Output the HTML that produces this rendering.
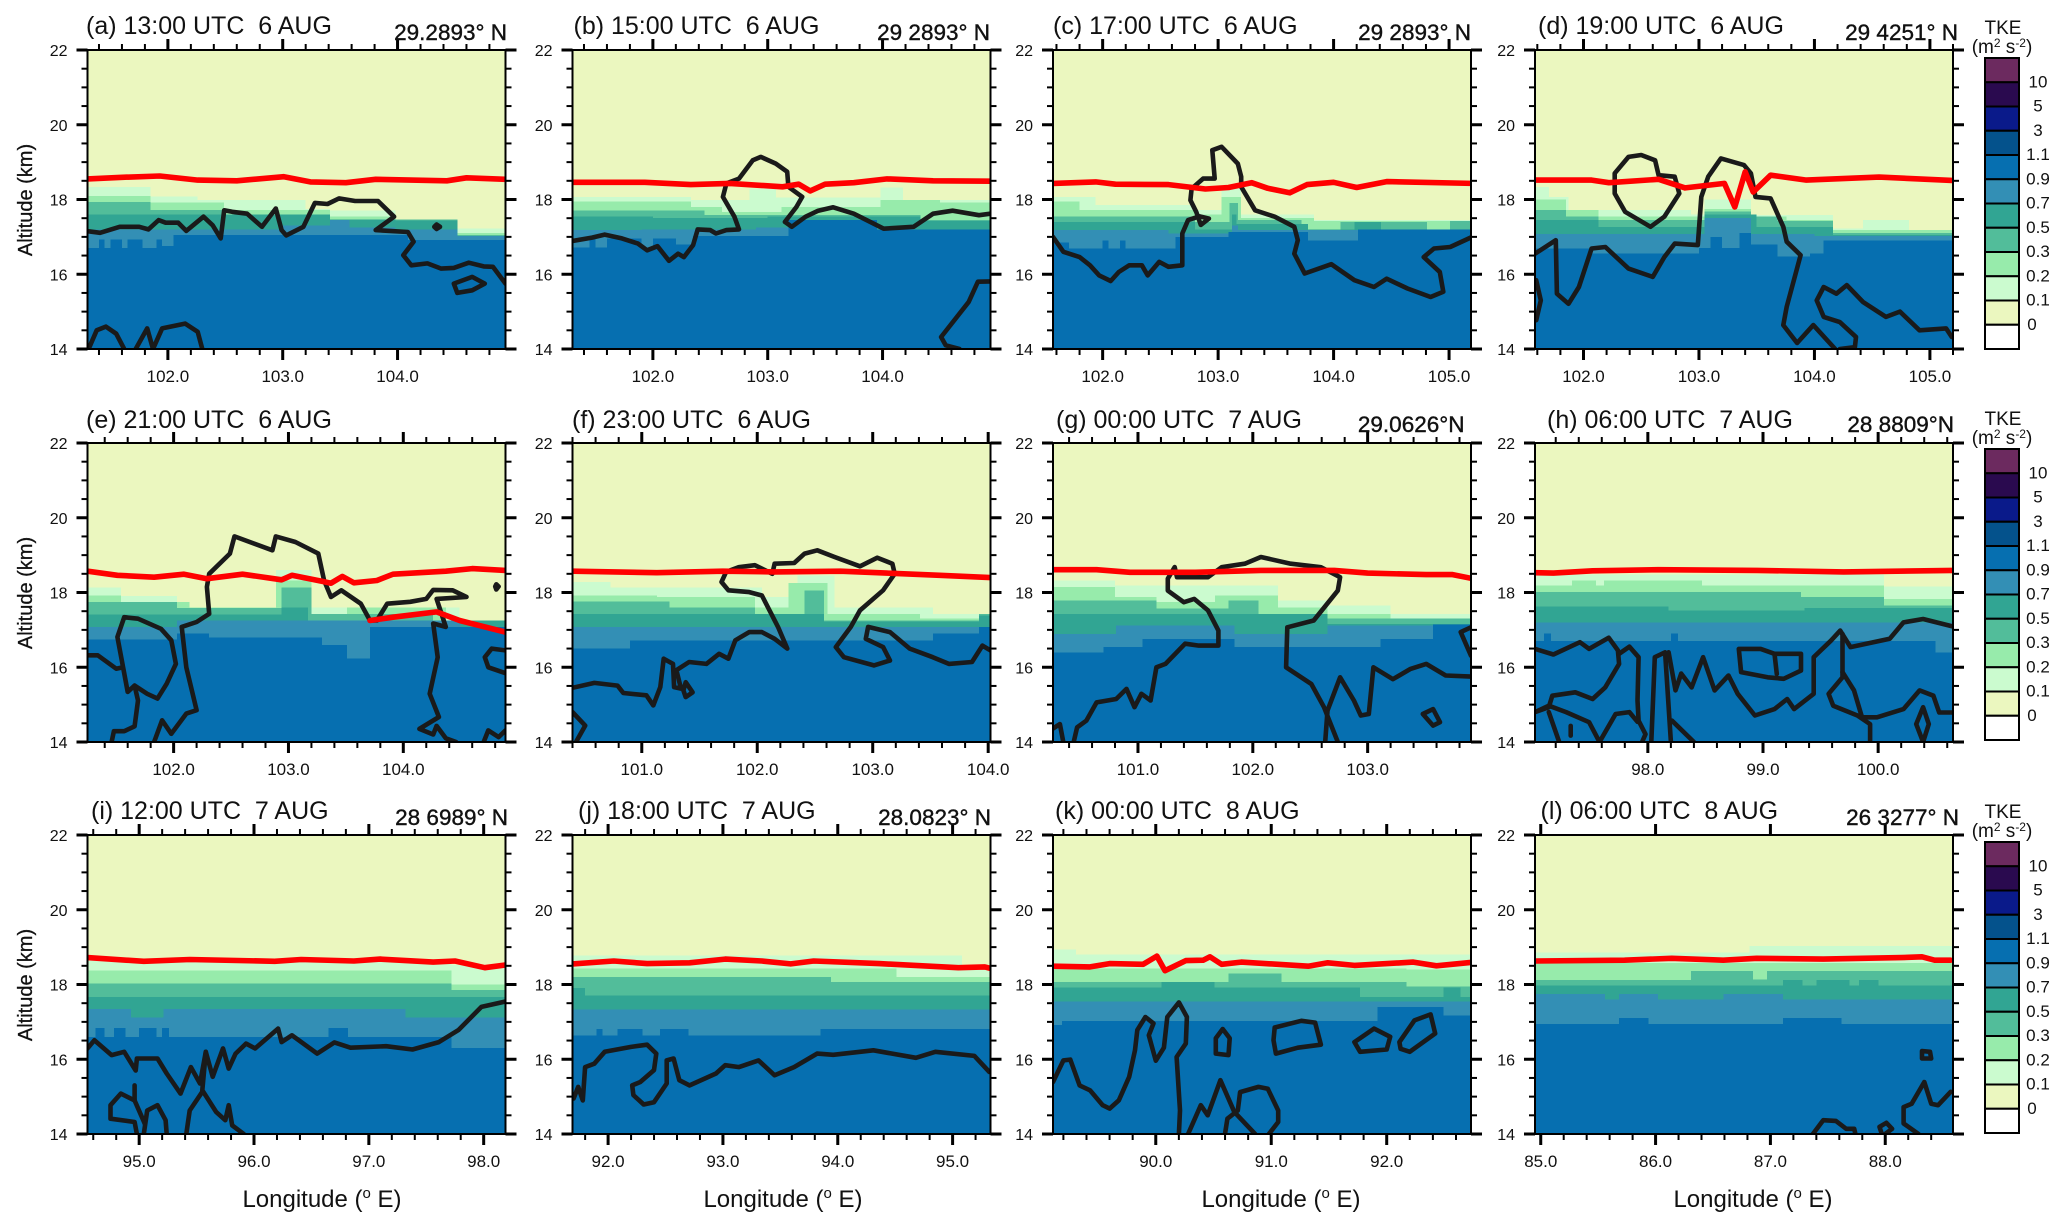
<!DOCTYPE html>
<html lang="en">
<head>
<meta charset="utf-8">
<title>TKE cross-sections</title>
<style>
html,body{margin:0;padding:0;background:#fff;}
svg{display:block;}
text{font-family:"Liberation Sans",sans-serif;fill:#111;}
</style>
</head>
<body>
<svg id="figure" xmlns="http://www.w3.org/2000/svg" width="2067" height="1232" viewBox="0 0 2067 1232"></svg>
<script>
const panelLetters = ['a','b','c','d','e','f','g','h','i','j','k','l'];
const panelTimes = ['13:00 UTC  6 AUG','15:00 UTC  6 AUG','17:00 UTC  6 AUG','19:00 UTC  6 AUG','21:00 UTC  6 AUG','23:00 UTC  6 AUG','00:00 UTC  7 AUG','06:00 UTC  7 AUG','12:00 UTC  7 AUG','18:00 UTC  7 AUG','00:00 UTC  8 AUG','06:00 UTC  8 AUG'];
const panelLats = ['29.2893° N','29 2893° N','29 2893° N','29 4251° N','','','29.0626°N','28 8809°N','28 6989° N','28.0823° N','','26 3277° N'];
const lonStart = [101.30,101.30,101.57,101.58,101.25,100.40,100.26,97.02,94.55,91.69,89.11,84.95];
const lonEnd = [104.94,104.94,105.19,105.20,104.89,104.02,103.90,100.65,98.19,95.33,92.73,88.59];
const altMin = 14;
const altMax = 22;
const altMajorTicks = [14,16,18,20,22];
const tkeLabels = ['10','5','3','1.1','0.9','0.7','0.5','0.3','0.2','0.1','0'];
const bandLevels = ['0.1','0.2','0.3','0.5','0.7','0.9'];

/* For each panel, for each TKE level: steps of [longitude where the step starts, altitude of level top] */
const tkeTops = [
 [ [[101.3,18.33],[101.85,18.08],[102.26,17.98],[103.2,17.75],[103.41,17.7],[103.98,17.47],[104.52,17.22]],
   [[101.3,18.09],[101.85,17.92],[102.49,17.72],[103.41,17.55],[103.98,17.45],[104.52,17.1]],
   [[101.3,17.93],[101.85,17.72],[102.49,17.6],[103.41,17.47],[104.52,17.05]],
   [[101.3,17.6],[103.41,17.46],[103.98,17.44],[104.52,17.03]],
   [[101.3,17.2],[102.5,17.2],[103.0,17.3],[103.41,17.45],[103.58,17.25],[103.98,17.2],[104.52,17.02]],
   [[101.3,16.7],[101.4,16.93],[101.45,16.7],[101.5,16.93],[101.6,16.7],[101.65,16.93],[101.78,16.7],[101.9,16.93],[101.95,16.75],[102.05,17.05],[104.09,16.91]] ],
 [ [[101.3,18.07],[102.33,17.98],[102.84,18.3],[103.07,18.05],[103.98,18.32],[104.18,17.98]],
   [[101.3,17.94],[102.33,17.8],[102.6,17.67],[103.12,17.8],[103.98,17.98],[104.5,17.92]],
   [[101.3,17.71],[102.45,17.58],[104.33,17.45]],
   [[101.3,17.55],[102.0,17.5],[103.0,17.55],[104.33,17.42]],
   [[101.3,17.18],[101.9,17.2],[102.9,17.25],[103.2,17.45],[103.95,17.2]],
   [[101.3,16.72],[101.45,16.95],[101.5,16.72],[101.6,16.95],[101.9,16.72],[102.0,16.95],[102.2,16.8],[102.35,17.03],[103.18,17.45],[103.95,17.2]] ],
 [ [[101.57,18.07],[101.94,17.85],[102.8,17.72],[103.03,18.34],[103.2,17.6],[103.83,17.45]],
   [[101.57,17.94],[101.8,17.72],[102.8,17.6],[103.03,18.07],[103.2,17.5],[103.83,17.43]],
   [[101.57,17.55],[102.8,17.4],[103.1,17.9],[103.17,17.45],[103.72,17.18],[104.06,17.4],[104.81,17.2],[105.01,17.43]],
   [[101.57,17.4],[102.8,17.2],[103.12,17.6],[103.16,17.35],[103.78,17.2],[104.18,17.4],[104.41,17.2]],
   [[101.57,17.18],[102.57,17.09],[103.12,17.3],[103.17,17.18],[104.21,17.2]],
   [[101.57,16.85],[101.71,16.69],[102.0,16.9],[102.05,16.69],[102.15,16.9],[102.2,16.69],[102.63,17.0],[103.09,17.13],[103.78,16.9],[104.21,17.2]] ],
 [ [[101.58,18.34],[101.7,18.07],[101.87,17.72],[102.93,17.6],[103.05,18.0],[103.45,17.58],[104.16,17.22],[104.42,17.45],[104.82,17.18]],
   [[101.58,18.0],[101.85,17.72],[102.13,17.55],[103.05,17.75],[103.45,17.55],[103.76,17.45],[104.16,17.18]],
   [[101.58,17.72],[101.85,17.55],[102.13,17.45],[103.05,17.68],[103.45,17.55],[103.68,17.42],[104.16,17.1]],
   [[101.58,17.45],[102.13,17.27],[103.05,17.6],[103.5,17.27],[104.16,17.05]],
   [[101.58,17.08],[103.05,17.5],[103.45,17.08],[104.0,17.03]],
   [[101.58,16.69],[102.07,16.55],[103.0,16.7],[103.1,17.0],[103.2,16.7],[103.35,17.1],[103.45,16.8],[103.68,16.47],[103.96,16.55],[104.08,16.9]] ],
 [ [[101.25,18.13],[101.54,17.9],[102.03,17.6],[102.89,18.6],[103.2,17.6],[104.49,17.25]],
   [[101.25,17.92],[101.54,17.75],[102.14,17.6],[102.89,18.32],[103.2,17.43],[103.51,17.6],[104.37,17.25]],
   [[101.25,17.75],[102.03,17.59],[102.94,18.13],[103.2,17.43],[104.26,17.2]],
   [[101.25,17.41],[102.94,17.6],[103.17,17.25]],
   [[101.25,17.08],[102.03,17.25],[104.5,17.08]],
   [[101.25,16.74],[102.03,16.9],[102.31,16.8],[103.29,16.6],[103.51,16.23],[103.71,17.08]] ],
 [ [[100.4,18.28],[100.73,18.13],[102.04,17.88],[102.35,18.46],[102.67,17.6],[103.52,17.43]],
   [[100.4,17.92],[101.13,17.88],[101.98,17.6],[102.27,18.25],[102.61,17.43],[103.41,17.3]],
   [[100.4,17.76],[101.24,17.6],[101.98,17.43],[102.41,18.05],[102.58,17.25],[103.92,17.43]],
   [[100.4,17.43],[102.58,17.22],[103.92,17.39]],
   [[100.4,17.08]],
   [[100.4,16.5],[100.9,16.72],[103.52,16.9],[103.92,17.08]] ],
 [ [[100.26,18.32],[100.8,18.19],[102.22,17.79],[102.65,17.65],[103.2,17.43]],
   [[100.26,18.15],[100.8,17.88],[101.16,17.75],[101.67,17.92],[102.22,17.6],[102.65,17.43],[103.2,17.3]],
   [[100.26,17.79],[101.16,17.57],[101.79,17.79],[102.05,17.43],[102.65,17.3]],
   [[100.26,17.43],[102.65,17.16]],
   [[100.26,16.89],[100.81,17.12],[101.84,16.89],[102.65,17.12]],
   [[100.26,16.4],[100.7,16.54],[101.04,16.76],[101.84,16.54],[103.11,16.76],[103.57,17.14]] ],
 [ [[97.02,18.48],[100.05,18.16]],
   [[97.02,18.19],[97.34,18.32],[97.55,18.19],[97.62,18.32],[98.47,18.19],[100.05,17.83]],
   [[97.02,18.01],[99.33,17.88],[100.05,17.65]],
   [[97.02,17.62],[98.18,17.52],[99.36,17.59]],
   [[97.02,17.2]],
   [[97.02,16.7],[97.1,16.9],[97.16,16.7],[98.2,16.9],[98.26,16.7],[100.5,16.4]] ],
 [ [[94.55,18.65],[97.72,18.52]],
   [[94.55,18.38],[97.72,18.0]],
   [[94.55,18.03],[97.72,17.85]],
   [[94.55,17.67]],
   [[94.55,17.35],[94.93,17.12],[95.21,17.35],[97.32,17.12]],
   [[94.55,16.6],[94.62,16.83],[94.7,16.6],[94.78,16.83],[94.88,16.6],[95.0,16.83],[95.15,16.6],[95.2,16.83],[95.26,16.6],[96.65,16.83],[96.82,16.6],[97.72,16.3]] ],
 [ [[91.69,18.78],[95.08,18.5]],
   [[91.69,18.43],[94.51,18.2]],
   [[91.69,18.2],[93.94,18.07]],
   [[91.69,17.9],[91.8,17.7]],
   [[91.69,17.33]],
   [[91.69,16.64],[91.9,16.81],[91.95,16.64],[92.08,16.81],[92.3,16.64],[92.45,16.81],[92.7,16.64],[93.85,16.81]] ],
 [ [[89.11,18.94],[89.31,18.8]],
   [[89.11,18.43],[92.17,18.4]],
   [[89.11,18.07],[90.63,18.3],[91.09,18.07],[92.17,17.94]],
   [[89.11,17.92],[90.05,18.07],[90.51,17.92],[91.77,17.67],[92.49,17.92],[92.64,17.67]],
   [[89.11,17.55]],
   [[89.11,16.92],[89.19,17.03],[91.92,17.4],[92.49,17.17]] ],
 [ [[84.95,18.86],[86.82,19.03]],
   [[84.95,18.58]],
   [[84.95,18.12],[86.31,18.36],[86.85,18.14],[86.97,18.36]],
   [[84.95,17.97],[87.11,18.12],[87.28,17.97],[87.4,18.12],[87.69,17.97],[87.77,18.12],[87.94,17.97]],
   [[84.95,17.75],[85.56,17.6],[85.68,17.75],[86.02,17.6],[86.59,17.75],[87.11,17.6]],
   [[84.95,16.94],[85.68,17.1],[85.94,16.94],[87.11,17.1],[87.62,16.94]] ]
];

/* Red line series per panel: [longitude, altitude] */
const redLines = [
 [[[101.3,18.55],[101.58,18.59],[101.93,18.63],[102.26,18.52],[102.6,18.5],[103.01,18.61],[103.24,18.47],[103.55,18.45],[103.81,18.54],[104.43,18.5],[104.6,18.58],[104.94,18.54]]],
 [[[101.3,18.46],[101.93,18.46],[102.33,18.4],[102.67,18.43],[103.13,18.34],[103.27,18.41],[103.37,18.23],[103.5,18.41],[103.75,18.45],[104.04,18.55],[104.44,18.5],[104.94,18.49]]],
 [[[101.57,18.43],[101.94,18.47],[102.11,18.41],[102.57,18.4],[102.89,18.28],[103.09,18.32],[103.29,18.45],[103.43,18.3],[103.62,18.18],[103.77,18.4],[104.0,18.46],[104.2,18.32],[104.46,18.48],[105.2,18.43]]],
 [[[101.58,18.52],[102.07,18.52],[102.22,18.45],[102.65,18.54],[102.88,18.31],[103.22,18.43],[103.31,17.8],[103.4,18.74],[103.47,18.2],[103.62,18.65],[103.93,18.52],[104.56,18.6],[105.19,18.51]]],
 [[[101.25,18.57],[101.51,18.46],[101.83,18.41],[102.09,18.49],[102.29,18.37],[102.6,18.49],[102.94,18.34],[103.03,18.46],[103.29,18.3],[103.37,18.25],[103.47,18.43],[103.57,18.26],[103.77,18.32],[103.91,18.49],[104.37,18.57],[104.6,18.64],[104.89,18.59]],
  [[103.71,17.25],[103.91,17.34],[104.29,17.48],[104.49,17.25],[104.89,16.94]]],
 [[[100.4,18.57],[101.13,18.53],[101.7,18.57],[102.15,18.55],[102.72,18.57],[103.12,18.52],[103.58,18.46],[104.02,18.4]]],
 [[[100.26,18.61],[100.64,18.61],[100.93,18.54],[101.5,18.54],[102.07,18.59],[102.71,18.59],[103.0,18.52],[103.51,18.48],[103.74,18.48],[103.9,18.38]]],
 [[[97.02,18.53],[97.18,18.52],[97.52,18.58],[98.09,18.61],[98.95,18.59],[99.7,18.55],[100.65,18.59]]],
 [[[94.55,18.72],[95.04,18.62],[95.44,18.67],[96.18,18.62],[96.41,18.67],[96.87,18.63],[97.1,18.68],[97.56,18.6],[97.75,18.63],[98.01,18.45],[98.18,18.52]]],
 [[[91.69,18.55],[92.05,18.63],[92.34,18.56],[92.71,18.58],[93.02,18.68],[93.34,18.63],[93.59,18.55],[93.79,18.63],[94.36,18.56],[95.05,18.45],[95.28,18.47],[95.33,18.43]]],
 [[[89.11,18.49],[89.43,18.47],[89.6,18.56],[89.89,18.54],[90.01,18.76],[90.08,18.37],[90.26,18.64],[90.41,18.65],[90.47,18.74],[90.57,18.54],[90.74,18.6],[91.32,18.49],[91.49,18.58],[91.72,18.51],[92.23,18.6],[92.43,18.5],[92.73,18.59]]],
 [[[84.95,18.63],[85.73,18.65],[86.14,18.7],[86.59,18.65],[86.88,18.7],[87.46,18.68],[88.14,18.72],[88.32,18.74],[88.43,18.65],[88.57,18.65]]]
];

/* Black contour lines per panel: open paths of [longitude, altitude] */
const blackLines = [
 [[[101.31,17.15],[101.41,17.11],[101.58,17.27],[101.75,17.27],[101.83,17.2],[101.92,17.45],[101.98,17.38],[102.09,17.38],[102.16,17.16],[102.31,17.54],[102.39,17.31],[102.46,16.96],[102.49,17.71],[102.56,17.67],[102.69,17.62],[102.82,17.27],[102.94,17.76],[102.99,17.18],[103.03,17.04],[103.18,17.27],[103.28,17.91],[103.39,17.88],[103.49,18.03],[103.63,17.96],[103.83,17.96],[103.97,17.54],[103.81,17.18],[104.09,17.13],[104.14,16.87],[104.05,16.51],[104.12,16.24],[104.26,16.29],[104.38,16.15],[104.49,16.17],[104.62,16.31],[104.75,16.21],[104.83,16.2],[104.94,15.75]],
  [[101.31,14],[101.38,14.5],[101.46,14.6],[101.55,14.41],[101.62,14]],
  [[101.72,14],[101.82,14.55],[101.87,14],[101.95,14.55],[102.15,14.68],[102.26,14.46],[102.3,14]]],
 [[[101.3,16.89],[101.47,16.98],[101.58,17.06],[101.73,16.96],[101.87,16.82],[101.95,16.64],[102.04,16.75],[102.14,16.36],[102.22,16.55],[102.27,16.46],[102.35,16.78],[102.39,17.2],[102.5,17.18],[102.55,17.09],[102.64,17.18],[102.75,17.2],[102.71,17.54],[102.61,18.07],[102.64,18.43],[102.75,18.56],[102.87,19.05],[102.94,19.14],[103.07,18.96],[103.17,18.74],[103.18,18.34],[103.3,18.07],[103.25,17.8],[103.15,17.4],[103.21,17.27],[103.33,17.54],[103.44,17.7],[103.57,17.79],[103.75,17.62],[104.01,17.22],[104.27,17.27],[104.44,17.62],[104.61,17.7],[104.84,17.58],[104.94,17.62]],
  [[104.94,15.81],[104.83,15.8],[104.75,15.26],[104.51,14.32],[104.55,14.1],[104.67,14]]],
 [[[101.57,17.0],[101.66,16.6],[101.8,16.46],[101.89,16.24],[101.97,15.97],[102.07,15.82],[102.14,16.06],[102.23,16.24],[102.34,16.24],[102.39,15.97],[102.49,16.33],[102.57,16.2],[102.69,16.24],[102.69,17.09],[102.74,17.45],[102.84,17.55],[102.92,17.49],[102.85,17.32],[102.81,17.67],[102.76,17.98],[102.77,18.29],[102.87,18.56],[102.97,18.56],[102.95,19.32],[103.03,19.41],[103.17,18.96],[103.2,18.61],[103.2,18.34],[103.32,17.71],[103.49,17.54],[103.66,17.27],[103.69,16.91],[103.66,16.55],[103.75,16.02],[103.98,16.27],[104.18,15.84],[104.35,15.66],[104.46,15.88],[104.64,15.62],[104.84,15.39],[104.95,15.53],[104.92,16.06],[104.78,16.46],[104.87,16.69],[105.01,16.73],[105.2,17.0]]],
 [[[101.58,16.55],[101.76,16.91],[101.77,15.48],[101.87,15.21],[101.96,15.66],[102.07,16.69],[102.19,16.73],[102.39,16.15],[102.6,15.93],[102.7,16.46],[102.79,16.82],[102.99,16.78],[103.02,18.07],[103.08,18.61],[103.19,19.1],[103.39,18.92],[103.45,18.7],[103.49,18.07],[103.62,18.03],[103.73,17.27],[103.76,16.87],[103.88,16.51],[103.76,15.13],[103.73,14.64],[103.85,14.16],[103.99,14.64],[104.18,14]],
  [[105.19,14.32],[105.14,14.55],[104.91,14.5],[104.74,15.0],[104.62,14.86],[104.42,15.26],[104.28,15.71],[104.19,15.48],[104.08,15.66],[104.02,15.3],[104.08,14.86],[104.22,14.72],[104.36,14.32],[104.35,14.05],[104.22,14]],
  [[101.59,15.84],[101.63,15.3],[101.59,14.77]]],
 [[[101.25,16.32],[101.34,16.32],[101.5,15.96],[101.56,16.0],[101.6,15.34],[101.66,15.51],[101.77,15.29],[101.86,15.16],[101.94,15.56],[102.02,16.09],[101.98,16.72],[101.89,17.03],[101.69,17.3],[101.57,17.34],[101.51,16.81],[101.56,16.0]],
  [[101.66,15.51],[101.69,15.11],[101.66,14.42],[101.57,14.29],[101.48,14.29],[101.46,14]],
  [[101.83,14],[101.9,14.58],[101.98,14.22],[102.11,14.76],[102.2,14.85],[102.11,16.0],[102.07,17.08],[102.2,17.21],[102.31,17.43],[102.29,18.15],[102.31,18.5],[102.49,19.04],[102.53,19.5],[102.86,19.13],[102.89,19.5],[103.06,19.35],[103.26,19.04],[103.31,18.32],[103.37,17.88],[103.46,18.06],[103.63,17.7],[103.71,17.25],[103.77,17.25],[103.86,17.7],[104.06,17.75],[104.2,17.83],[104.26,18.07],[104.43,18.06],[104.55,17.88],[104.29,17.83],[104.37,17.08],[104.26,17.17],[104.3,16.27],[104.23,15.29],[104.31,14.67],[104.14,14.35],[104.26,14.2],[104.29,14.43],[104.37,14.1],[104.46,14]],
  [[104.89,16.45],[104.77,16.5],[104.71,16.27],[104.74,16.0],[104.89,15.84]],
  [[104.7,14],[104.74,14.31],[104.83,14.13],[104.89,14.31]]],
 [[[100.4,15.45],[100.59,15.58],[100.79,15.51],[100.84,15.31],[101.04,15.25],[101.1,14.98],[101.16,15.47],[101.19,16.23],[101.27,16.09],[101.28,15.47],[101.34,15.43],[101.3,15.92],[101.41,16.14],[101.56,16.09],[101.67,16.36],[101.75,16.23],[101.81,16.72],[101.93,16.94],[102.04,16.94],[102.15,16.76],[102.26,16.5],[102.18,17.08],[102.04,17.92],[101.93,18.01],[101.75,18.06],[101.69,18.28],[101.73,18.55],[101.84,18.68],[101.98,18.73],[102.13,18.5],[102.15,18.77],[102.32,18.79],[102.41,19.04],[102.52,19.13],[102.67,18.95],[102.89,18.7],[103.04,18.93],[103.17,18.77],[103.19,18.5],[103.09,18.06],[102.89,17.52],[102.81,17.08],[102.68,16.54],[102.75,16.27],[103.01,16.05],[103.15,16.18],[103.09,16.54],[102.94,16.76],[102.96,17.08],[103.15,16.94],[103.32,16.5],[103.52,16.27],[103.66,16.09],[103.86,16.14],[103.95,16.58],[104.02,16.45]],
  [[100.4,14.8],[100.51,14.44],[100.43,14]]],
 [[[100.26,14.36],[100.32,14.48],[100.35,14]],
  [[100.44,14],[100.47,14.39],[100.55,14.57],[100.64,15.06],[100.81,15.15],[100.9,15.42],[100.97,14.93],[101.03,15.29],[101.11,15.11],[101.16,16.0],[101.24,16.09],[101.41,16.63],[101.53,16.58],[101.7,16.58],[101.7,16.98],[101.61,17.52],[101.49,17.83],[101.4,17.74],[101.26,18.05],[101.26,18.37],[101.32,18.68],[101.34,18.41],[101.61,18.41],[101.73,18.68],[101.93,18.77],[102.07,18.95],[102.33,18.77],[102.59,18.68],[102.76,18.41],[102.74,18.05],[102.53,17.25],[102.3,17.07],[102.29,16.0],[102.51,15.55],[102.62,14.93],[102.74,14]],
  [[102.63,14],[102.65,14.84],[102.76,15.73],[102.88,15.11],[102.94,14.71],[103.01,14.75],[103.05,16.0],[103.22,15.68],[103.37,15.95],[103.51,16.09],[103.68,15.78],[103.9,15.75]],
  [[103.9,17.07],[103.81,16.94],[103.9,16.31]]],
 [[[97.02,16.49],[97.18,16.34],[97.41,16.67],[97.49,16.49],[97.66,16.79],[97.74,16.45],[97.75,16.09],[97.63,15.46],[97.52,15.15],[97.37,15.33],[97.17,15.24],[97.14,14.93],[97.02,14.8]],
  [[97.75,16.36],[97.84,16.55],[97.92,16.27],[97.91,15.11],[97.92,14.57],[97.98,14.21],[97.95,14]],
  [[98.03,14],[98.06,16.27],[98.15,16.4],[98.2,14]],
  [[98.18,16.4],[98.24,15.38],[98.29,15.83],[98.38,15.46],[98.48,16.27],[98.58,15.38],[98.7,15.78],[98.78,15.29],[98.93,14.71],[99.1,14.88],[99.21,15.15],[99.27,14.88],[99.44,15.29],[99.44,16.27],[99.59,16.71],[99.67,16.98],[99.76,16.54],[100.1,16.76],[100.22,17.2],[100.39,17.29],[100.65,17.09]],
  [[99.69,16.89],[99.69,15.73],[99.57,15.29],[99.61,14.97],[99.82,14.71],[99.93,14.48],[99.93,14]],
  [[99.69,15.87],[99.79,15.38],[99.86,14.66],[99.99,14.66],[100.22,14.88],[100.36,15.38],[100.48,15.24],[100.53,14.79],[100.65,14.79]],
  [[97.02,14.8],[97.14,14.97],[97.29,14.8],[97.49,14.53],[97.58,14]],
  [[97.14,14.8],[97.23,14]],
  [[97.33,14.43],[97.33,14.17]],
  [[97.58,14],[97.72,14.75],[97.84,14.8],[97.91,14.54]],
  [[98.21,14.57],[98.4,14]],
  [[99.1,16.36],[99.12,15.82]]],
 [[[94.55,16.29],[94.61,16.51],[94.76,16.11],[94.87,16.2],[94.97,15.7],[94.98,16.02],[95.16,16.02],[95.24,15.62],[95.36,15.08],[95.45,15.79],[95.53,15.35],[95.58,16.2],[95.64,15.53],[95.73,16.29],[95.78,15.75],[95.84,16.15],[95.93,16.42],[96.01,16.29],[96.21,16.82],[96.24,16.46],[96.33,16.64],[96.55,16.15],[96.7,16.45],[96.84,16.31],[97.15,16.35],[97.38,16.26],[97.61,16.46],[97.78,16.78],[97.98,17.4],[98.18,17.54]],
  [[95.58,16.2],[95.55,15.17],[95.67,14.59],[95.75,14.37],[95.78,14.77],[95.81,14.23],[95.91,14]],
  [[95.41,14],[95.44,14.63],[95.55,15.13]],
  [[94.96,15.3],[94.96,14.9],[94.84,15.08],[94.75,14.77],[94.75,14.41],[94.96,14.32],[94.98,14]],
  [[95.04,14],[95.07,14.63],[95.16,14.77],[95.23,14.37],[95.24,14]],
  [[94.96,14.9],[95.05,14.27]]],
 [[[91.7,14.95],[91.74,15.26],[91.78,14.9],[91.8,15.79],[91.88,15.88],[91.97,16.2],[92.2,16.33],[92.34,16.39],[92.42,16.15],[92.4,15.71],[92.28,15.39],[92.21,15.3],[92.22,15.04],[92.31,14.79],[92.4,14.85],[92.51,15.35],[92.51,15.97],[92.57,16.02],[92.62,15.44],[92.71,15.3],[92.94,15.62],[93.02,15.84],[93.14,15.79],[93.31,15.97],[93.45,15.57],[93.62,15.79],[93.82,16.15],[93.96,16.12],[94.31,16.24],[94.68,16.04],[94.85,16.2],[95.19,16.09],[95.32,15.66]]],
 [[[89.11,15.39],[89.2,15.97],[89.26,15.99],[89.34,15.3],[89.43,15.17],[89.54,14.77],[89.6,14.68],[89.68,14.9],[89.77,15.53],[89.82,16.24],[89.84,16.78],[89.91,17.13],[89.98,16.96],[89.94,16.64],[90.0,15.96],[90.07,16.31],[90.1,17.13],[90.2,17.52],[90.27,17.13],[90.26,16.42],[90.18,16.06],[90.21,14.63],[90.2,14]],
  [[90.28,14],[90.39,14.77],[90.45,14.5],[90.56,15.44],[90.68,14.59],[90.86,14]],
  [[90.6,14],[90.62,14.41],[90.71,14.63],[90.73,15.12],[90.89,15.26],[90.97,15.21],[91.06,14.63],[91.06,14.32],[90.98,14]]],
 [[[88.57,15.13],[88.46,14.77],[88.4,14.81],[88.34,15.39],[88.23,14.81],[88.16,14.72],[88.16,14.28],[88.29,14]],
  [[87.37,14],[87.46,14.37],[87.57,14.35],[87.66,14.14],[87.73,14.14],[87.74,14]],
  [[87.97,14],[87.95,14.19],[88.01,14.3],[88.06,14.14],[88.0,14]]]
];

/* Black closed contour loops per panel */
const blackLoops = [
 [[[104.49,15.75],[104.65,15.93],[104.76,15.75],[104.65,15.57],[104.52,15.5]],
  [[104.32,17.27],[104.34,17.33],[104.37,17.27],[104.34,17.21]]],
 [],
 [],
 [[[102.27,18.7],[102.39,19.14],[102.5,19.19],[102.62,19.05],[102.65,18.65],[102.79,18.61],[102.83,18.16],[102.7,17.54],[102.58,17.27],[102.36,17.67],[102.27,18.16]]],
 [[[104.8,18.16],[104.81,18.22],[104.83,18.16],[104.81,18.08]]],
 [[[101.38,15.6],[101.44,15.33],[101.38,15.2],[101.36,15.38]]],
 [[[103.48,14.75],[103.57,14.88],[103.63,14.53],[103.57,14.44]]],
 [[[100.39,14.93],[100.44,14.48],[100.39,14],[100.33,14.48]],
  [[98.79,16.49],[98.98,16.49],[99.1,16.36],[99.33,16.36],[99.33,15.91],[99.18,15.69],[99.04,15.73],[98.81,15.87]]],
 [],
 [],
 [[[90.58,16.81],[90.64,16.56],[90.63,16.11],[90.52,16.15],[90.52,16.56]],
  [[91.03,16.85],[91.26,17.03],[91.38,16.98],[91.43,16.39],[91.23,16.31],[91.04,16.15],[91.02,16.51]],
  [[91.72,16.46],[91.89,16.82],[92.03,16.6],[92.0,16.26],[91.77,16.2]],
  [[92.11,16.46],[92.24,17.04],[92.38,17.2],[92.42,16.69],[92.2,16.2],[92.12,16.28]]],
 [[[88.32,16.22],[88.39,16.2],[88.4,16.02],[88.32,16.02]]]
];

const svg = document.getElementById('figure');
const NS = 'http://www.w3.org/2000/svg';
const colLeft = [87.5,572.5,1053,1535];
const rowTop = [50,443,835];
const plotW = 418;
const plotH = 299;
const bandColors = ['#CBFBCF','#97EBAB','#52BD9A','#31A593','#338FB5','#066FB0'];
const barColors = ['#6C2A5F','#2A0A4F','#0A1A8A','#04528C','#066FB0','#338FB5','#31A593','#52BD9A','#97EBAB','#CBFBCF','#EBF7BF','#FFFFFF'];
const barTop = [58,449,842];
const titleX = [86,573.5,1053,1538,86,572,1056,1547,91,578,1055,1540.5];
const titleBase = [34,428,819];
const latRight = [507,990,1471,1958,507,991,1464.5,1954,508,991,1471,1959];
const latBase = [40,432,825];
const lonTitleX = [322,783,1281,1753];

function make(tag, attrs, parent){
  const el = document.createElementNS(NS, tag);
  for (const k in attrs) el.setAttribute(k, attrs[k]);
  (parent || svg).appendChild(el);
  return el;
}

function drawPanel(i){
  const col = i % 4;
  const row = Math.floor(i / 4);
  const L = colLeft[col];
  const T = rowTop[row];
  const R = L + plotW;
  const B = T + plotH;
  const lon0 = lonStart[i];
  const lon1 = lonEnd[i];
  const xScale = lon => L + (lon - lon0) / (lon1 - lon0) * plotW;
  const yScale = alt => B - (alt - altMin) / (altMax - altMin) * plotH;

  const g = make('g', {});
  
  

  const clip = make('clipPath', {id: 'clip' + i}, g);
  make('rect', {x: L, y: T, width: plotW, height: plotH}, clip);

  const field = make('g', {'clip-path': 'url(#clip' + i + ')', 'shape-rendering': 'crispEdges'}, g);
  
  
  const base = make('rect', {x: L, y: T, width: plotW, height: plotH, fill: '#EBF7BF'}, field);
  
  

  tkeTops[i].forEach((steps, b) => {
    const pts = [];
    pts.push(xScale(steps[0][0]) + ',' + B);
    steps.forEach((s, k) => {
      const next = k + 1 < steps.length ? steps[k + 1][0] : lon1;
      pts.push(xScale(s[0]).toFixed(1) + ',' + yScale(s[1]).toFixed(1));
      pts.push(xScale(next).toFixed(1) + ',' + yScale(s[1]).toFixed(1));
    });
    pts.push(xScale(lon1) + ',' + B);
    const poly = make('polygon', {points: pts.join(' '), fill: bandColors[b]}, field);
    
    
  });

  const lines = make('g', {'clip-path': 'url(#clip' + i + ')', fill: 'none', 'stroke-linejoin': 'round', 'stroke-linecap': 'round'}, g);
  
  
  const toPath = (pts, close) => pts.map((p, k) => (k ? 'L' : 'M') + xScale(p[0]).toFixed(1) + ' ' + yScale(p[1]).toFixed(1)).join('') + (close ? 'Z' : '');

  blackLines[i].forEach(pts => {
    const p = make('path', {d: toPath(pts, false), stroke: '#1a1a1a', 'stroke-width': 4.6}, lines);
    
    
  });
  blackLoops[i].forEach(pts => {
    const p = make('path', {d: toPath(pts, true), stroke: '#1a1a1a', 'stroke-width': 4.6}, lines);
    
    
  });
  redLines[i].forEach(pts => {
    const p = make('path', {d: toPath(pts, false), stroke: '#ff0000', 'stroke-width': 5.6}, lines);
    
    
  });

  const frame = make('rect', {x: L, y: T, width: plotW, height: plotH, fill: 'none', stroke: '#000', 'stroke-width': 2}, g);
  
  

  const ticks = make('g', {stroke: '#000'}, g);
  
  
  for (let a = altMin; a <= altMax + 0.001; a += 0.5) {
    const major = altMajorTicks.indexOf(a) >= 0;
    const y = yScale(a);
    const len = major ? 11 : 6;
    const w = major ? 3 : 2;
    make('line', {x1: L - len, x2: L, y1: y, y2: y, 'stroke-width': w}, ticks);
    make('line', {x1: R, x2: R + len, y1: y, y2: y, 'stroke-width': w}, ticks);
    if (major) {
      const lab = make('text', {x: L - 20, y: y + 6, 'text-anchor': 'end', 'font-size': 16}, g);
      
      
      lab.textContent = String(a);
    }
  }
  const firstTick = Math.ceil(lon0 * 5 - 0.001);
  const lastTick = Math.floor(lon1 * 5 + 0.001);
  for (let t = firstTick; t <= lastTick; t++) {
    const lon = t / 5;
    const major = t % 5 === 0;
    const x = xScale(lon);
    const len = major ? 11 : 6;
    const w = major ? 3 : 2;
    make('line', {x1: x, x2: x, y1: B, y2: B + len, 'stroke-width': w}, ticks);
    if (major || i !== 11) make('line', {x1: x, x2: x, y1: T - len, y2: T, 'stroke-width': w}, ticks);
    if (major) {
      const lab = make('text', {x: x, y: B + 33, 'text-anchor': 'middle', 'font-size': 17}, g);
      
      
      lab.textContent = lon.toFixed(1);
    }
  }

  const title = make('text', {x: titleX[i], y: titleBase[row], 'font-size': 25, 'xml:space': 'preserve', style: 'white-space:pre', fill: '#222'}, g);
  
  
  title.textContent = '(' + panelLetters[i] + ') ' + panelTimes[i];

  if (panelLats[i]) {
    const lat = make('text', {x: latRight[i], y: latBase[row], 'text-anchor': 'end', 'font-size': 22.5, stroke: '#111', 'stroke-width': 0.4}, g);
    
    
    lat.textContent = panelLats[i];
  }
}

function drawColorbar(row){
  const g = make('g', {});
  
  
  const top = barTop[row];
  const boxH = 24.25;
  barColors.forEach((c, k) => {
    const box = make('rect', {x: 1985, y: top + k * boxH, width: 34, height: boxH, fill: c, stroke: '#000', 'stroke-width': 2}, g);
    
    
  });
  tkeLabels.forEach((t, k) => {
    const lab = make('text', {x: t === '0' ? 2032 : 2038, y: top + (k + 1) * boxH + 5, 'text-anchor': 'middle', 'font-size': 17}, g);
    
    
    lab.textContent = t;
  });
  const tke = make('text', {x: 2003, y: top - 24, 'text-anchor': 'middle', 'font-size': 19}, g);
  
  
  tke.textContent = 'TKE';
  const unit = make('text', {x: 2002, y: top - 5, 'text-anchor': 'middle', 'font-size': 19}, g);
  
  
  unit.appendChild(document.createTextNode('(m'));
  make('tspan', {dy: -6, 'font-size': 12}, unit).textContent = '2';
  make('tspan', {dy: 6}, unit).textContent = ' s';
  make('tspan', {dy: -6, 'font-size': 12}, unit).textContent = '-2';
  make('tspan', {dy: 6}, unit).textContent = ')';
}

function drawAxisTitles(){
  rowTop.forEach(T => {
    const cy = T + 150;
    const t = make('text', {x: 32, y: cy, 'text-anchor': 'middle', 'font-size': 20, stroke: '#111', 'stroke-width': 0.3, transform: 'rotate(-90 32 ' + cy + ')'});
    
    
    t.textContent = 'Altitude (km)';
  });
  lonTitleX.forEach(x => {
    const t = make('text', {x: x, y: 1207, 'text-anchor': 'middle', 'font-size': 24, fill: '#222'});
    
    
    t.appendChild(document.createTextNode('Longitude ('));
    make('tspan', {dy: -9, 'font-size': 15}, t).textContent = 'o';
    make('tspan', {dy: 9}, t).textContent = ' E)';
  });
}

panelLetters.forEach((_, i) => drawPanel(i));
rowTop.forEach((_, r) => drawColorbar(r));
drawAxisTitles();
</script>
</body>
</html>
